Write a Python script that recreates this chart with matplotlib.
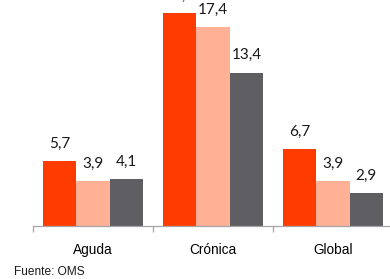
import numpy as np
import matplotlib
matplotlib.use("Agg")
import matplotlib.pyplot as plt

categories = ["Aguda", "Crónica", "Global"]
serie_a = [5.7, 18.6, 6.7]
serie_b = [3.9, 17.4, 3.9]
serie_c = [4.1, 13.4, 2.9]
labels_a = ["5,7", "18,6", "6,7"]
labels_b = ["3,9", "17,4", "3,9"]
labels_c = ["4,1", "13,4", "2,9"]

colors = ["#FF3C00", "#FFB095", "#5F5E63"]

fig = plt.figure(figsize=(3.9, 2.79), dpi=100)
ax = fig.add_axes([33/390, 53/279, 360/390, 226/279])

x = np.arange(len(categories))
w = 0.278
series = [(serie_a, labels_a), (serie_b, labels_b), (serie_c, labels_c)]
for i, (vals, labs) in enumerate(series):
    pos = x + (i - 1) * w
    ax.bar(pos, vals, width=w, color=colors[i], linewidth=0)
    for px, v, t in zip(pos, vals, labs):
        # the tallest label sits above the top edge, as in the source
        ax.annotate(t, (px, v), xytext=(0, 7.5), textcoords="offset points",
                    ha="center", va="bottom", fontsize=11, family="Lato",
                    color="#1a1a1a", annotation_clip=False)

ax.set_xlim(-0.5, 2.5)
ax.set_ylim(0, 19.76)
ax.set_yticks([])
for s in ["left", "right", "top"]:
    ax.spines[s].set_visible(False)
ax.spines["bottom"].set_color("#A6A6A6")
ax.spines["bottom"].set_linewidth(0.9)

# ticks between groups, labels at group centres
ax.set_xticks([-0.5, 0.5, 1.5, 2.5])
ax.set_xticklabels([])
ax.tick_params(axis="x", length=4, width=0.9, color="#A6A6A6", direction="out")
ax.set_xticks(x, minor=True)
ax.set_xticklabels(categories, minor=True, fontsize=9.8, family="Liberation Sans")
ax.tick_params(axis="x", which="minor", length=0, pad=12)

fig.text(14/390, 1 - 272/279, "Fuente: OMS", fontsize=8.6, family="Liberation Sans",
         ha="left", va="center", color="#1a1a1a")

fig.savefig("out.png", dpi=100)
